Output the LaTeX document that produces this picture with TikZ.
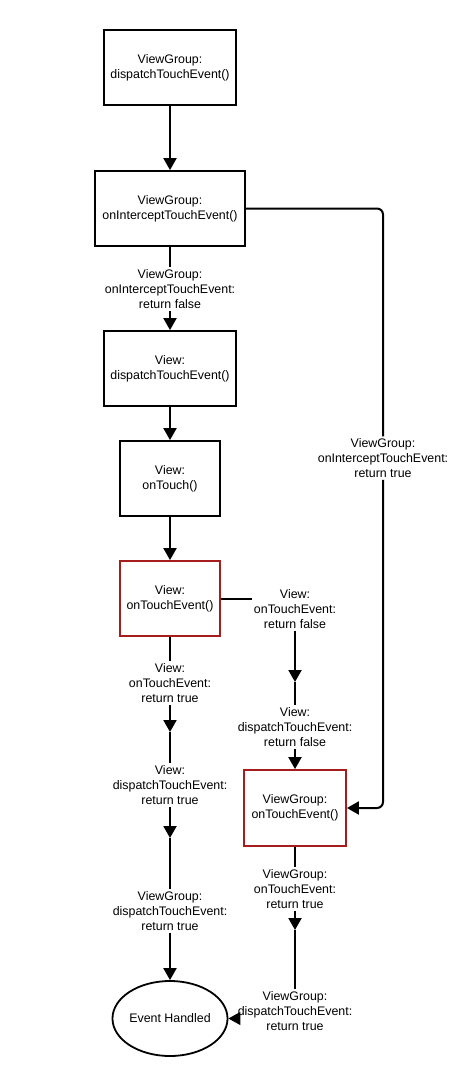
\documentclass[tikz,border=0pt]{standalone}
\usepackage{fontspec}
\setmainfont{Liberation Sans}
\usepackage{tikz}
\usetikzlibrary{arrows.meta,positioning,shapes.geometric}
\definecolor{critred}{HTML}{A51D1D}
\tikzset{
  proc/.style={rectangle, draw=#1, line width=1.8pt, fill=white, align=center,
               font=\fontsize{12.4}{15}\selectfont, minimum height=75pt, inner sep=0pt},
  proc/.default=black,
  lbl/.style={fill=white, align=center, font=\fontsize{12.4}{15}\selectfont, inner sep=2pt},
  lin/.style={line width=2pt, draw=black},
  arr/.style={-{Triangle[length=12pt,width=13pt]}, line width=2pt, draw=black},
}
\begin{document}
\begin{tikzpicture}[x=1pt, y=-1pt]
\useasboundingbox (0,0) rectangle (468,1076);
\node[proc, minimum width=132pt] (b1) at (170,67.5) {ViewGroup:\\dispatchTouchEvent()};
\node[proc, minimum width=150pt] (b2) at (170,208.5) {ViewGroup:\\onInterceptTouchEvent()};
\node[proc, minimum width=132pt] (b3) at (170,368.5) {View:\\dispatchTouchEvent()};
\node[proc, minimum width=100pt] (b4) at (170,478.5) {View:\\onTouch()};
\node[proc=critred, minimum width=100pt] (b5) at (170,598.5) {View:\\onTouchEvent()};
\node[proc=critred, minimum width=102pt, minimum height=76pt] (b6) at (295,808) {ViewGroup:\\onTouchEvent()};
\node[ellipse, draw, line width=1.8pt, minimum width=101pt, minimum height=75pt, inner sep=0pt,
      font=\fontsize{12.4}{15}\selectfont] (eh) at (170,1018.5) {Event Handled};

\node[lbl] (lf) at (170,289) {ViewGroup:\\onInterceptTouchEvent:\\return false};
\node[lbl] (lt) at (383,458) {ViewGroup:\\onInterceptTouchEvent:\\return true};
\node[lbl] (la) at (295,609) {View:\\onTouchEvent:\\return false};
\node[lbl] (lb) at (295,727) {View:\\dispatchTouchEvent:\\return false};
\node[lbl] (lc) at (170,683) {View:\\onTouchEvent:\\return true};
\node[lbl] (ld) at (170,785) {View:\\dispatchTouchEvent:\\return true};
\node[lbl] (le) at (170,911) {ViewGroup:\\dispatchTouchEvent:\\return true};
\node[lbl] (lg) at (295,889) {ViewGroup:\\onTouchEvent:\\return true};
\node[lbl] (lh) at (295,1011) {ViewGroup:\\dispatchTouchEvent:\\return true};

\coordinate (c1) at (170,732);
\coordinate (c2) at (170,838);
\coordinate (c4) at (295,682);
\coordinate (c5) at (295,930);

\draw[arr] (b1) -- (b2);
\draw[lin] (b2) -- (lf);
\draw[arr] (lf) -- (b3);
\draw[arr] (b3) -- (b4);
\draw[arr] (b4) -- (b5);
\draw[lin, rounded corners=6pt] (b2.east) -| (lt.north);
\draw[arr, rounded corners=6pt] (lt.south) |- (b6.east);
\draw[lin] (b5) -- (lc);
\draw[arr] (lc) -- (c1);
\draw[lin] (c1) -- (ld);
\draw[arr] (ld) -- (c2);
\draw[lin] (c2) -- (le);
\draw[arr] (le) -- (eh);
\draw[lin] (b5.east) -- (b5.east -| la.west);
\draw[arr] (la) -- (c4);
\draw[lin] (c4) -- (lb);
\draw[arr] (lb) -- (b6);
\draw[lin] (b6) -- (lg);
\draw[arr] (lg) -- (c5);
\draw[lin] (c5) -- (lh);
\draw[arr, line width=1pt] (lh.west |- eh.east) -- (eh.east);
\end{tikzpicture}
\end{document}
